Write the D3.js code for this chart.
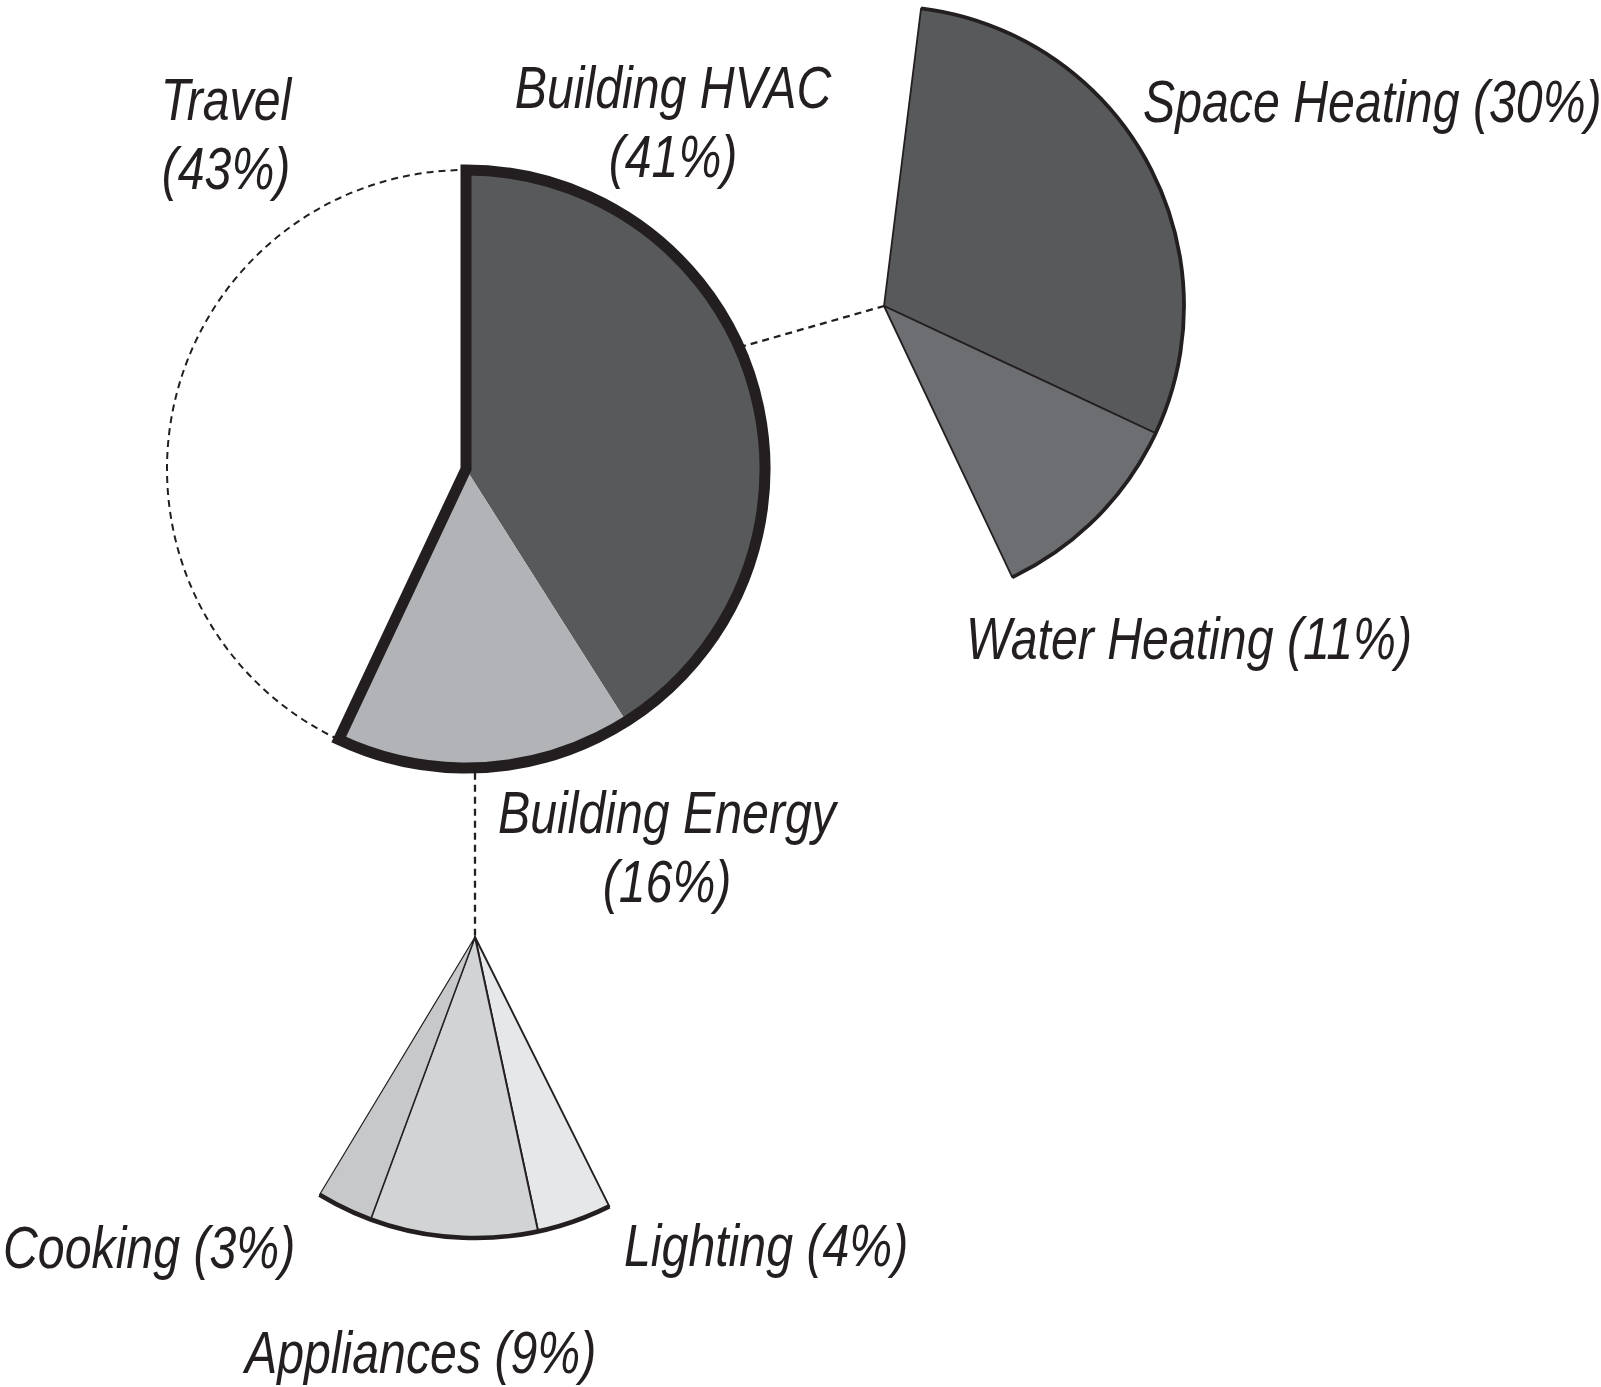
<!DOCTYPE html>
<html>
<head>
<meta charset="utf-8">
<script src="https://cdn.jsdelivr.net/npm/d3@7"></script>
<style>
  html, body { margin: 0; padding: 0; background: #ffffff; }
  svg { display: block; }
  .lbl { font-family: "Liberation Sans", Arial, sans-serif; font-style: italic; font-size: 58.5px; fill: #231f20; }
</style>
</head>
<body>
<script>
// ---------------- DATA ----------------
const mainCats   = ["Building HVAC", "Building Energy", "Travel"];
const mainValues = [41, 16, 43];

const hvacCats   = ["Space Heating", "Water Heating"];
const hvacValues = [30, 11];

const energyCats   = ["Lighting", "Appliances", "Cooking"];
const energyValues = [4, 9, 3];

const labelLines = {
  "Travel": ["Travel", "(43%)"],
  "Building HVAC": ["Building HVAC", "(41%)"],
  "Building Energy": ["Building Energy", "(16%)"],
  "Space Heating": ["Space Heating (30%)"],
  "Water Heating": ["Water Heating (11%)"],
  "Cooking": ["Cooking (3%)"],
  "Lighting": ["Lighting (4%)"],
  "Appliances": ["Appliances (9%)"]
};

// ---------------- LAYOUT ----------------
const W = 1601, H = 1387;
const ink = "#231f20";
const deg = Math.PI / 180;
const pctToAngle = d3.scaleLinear().domain([0, 100]).range([0, 2 * Math.PI]);

const mainC = { x: 466, y: 469, r: 299 };
const hvacC = { x: 884, y: 306, r: 300, start: 7.1 * deg };
const enC   = { x: 475, y: 937, r: 301, start: 153.5 * deg };

const colors = {
  "Building HVAC": "#58595b",
  "Building Energy": "#b1b3b6",
  "Travel": "#ffffff",
  "Space Heating": "#58595b",
  "Water Heating": "#6d6e71",
  "Lighting": "#e6e7e8",
  "Appliances": "#d1d3d4",
  "Cooking": "#c7c8ca"
};

const svg = d3.select("body").append("svg").attr("width", W).attr("height", H);

const pt = (c, a, r) => [c.x + (r ?? c.r) * Math.sin(a), c.y - (r ?? c.r) * Math.cos(a)];

// ---------------- MAIN PIE ----------------
const mainPie = d3.pie().sort(null).value(d => d.v).startAngle(0).endAngle(2 * Math.PI);
const mainArcs = mainPie(mainCats.map((c, i) => ({ c, v: mainValues[i] })));
const arcMain = d3.arc().innerRadius(0).outerRadius(mainC.r);
const gMain = svg.append("g").attr("transform", `translate(${mainC.x},${mainC.y})`);

const travel = mainArcs[2];
const tp = d3.path();
tp.arc(0, 0, mainC.r, travel.startAngle - Math.PI / 2, travel.endAngle - Math.PI / 2);
gMain.append("path").attr("d", tp.toString())
  .attr("fill", "none").attr("stroke", ink).attr("stroke-width", 2)
  .attr("stroke-dasharray", "7 5");

gMain.selectAll("path.slice").data(mainArcs.slice(0, 2)).join("path")
  .attr("class", "slice").attr("d", arcMain)
  .attr("fill", d => colors[d.data.c]).attr("stroke", "none");

const bStart = mainArcs[0].startAngle, bEnd = mainArcs[1].endAngle;
gMain.append("path")
  .attr("d", arcMain({ startAngle: bStart, endAngle: bEnd }))
  .attr("fill", "none").attr("stroke", ink).attr("stroke-width", 11)
  .attr("stroke-linejoin", "miter").attr("stroke-miterlimit", 10);

// ---------------- HVAC BREAKDOWN ----------------
const hvacSpan = pctToAngle(d3.sum(hvacValues));
const hvacPie = d3.pie().sort(null).value(d => d.v).startAngle(hvacC.start).endAngle(hvacC.start + hvacSpan);
const hvacArcs = hvacPie(hvacCats.map((c, i) => ({ c, v: hvacValues[i] })));
const arcHvac = d3.arc().innerRadius(0).outerRadius(hvacC.r);
const gH = svg.append("g").attr("transform", `translate(${hvacC.x},${hvacC.y})`);
gH.selectAll("path.slice").data(hvacArcs).join("path")
  .attr("class", "slice").attr("d", arcHvac)
  .attr("fill", d => colors[d.data.c]).attr("stroke", ink).attr("stroke-width", 1.8)
  .attr("stroke-linejoin", "round");
const hp = d3.path();
hp.arc(0, 0, hvacC.r, hvacC.start - Math.PI / 2, hvacC.start + hvacSpan - Math.PI / 2);
gH.append("path").attr("d", hp.toString()).attr("fill", "none").attr("stroke", ink).attr("stroke-width", 3.8);

// ---------------- ENERGY BREAKDOWN ----------------
const enSpan = pctToAngle(d3.sum(energyValues));
const enPie = d3.pie().sort(null).value(d => d.v).startAngle(enC.start).endAngle(enC.start + enSpan);
const enArcs = enPie(energyCats.map((c, i) => ({ c, v: energyValues[i] })));
const arcEn = d3.arc().innerRadius(0).outerRadius(enC.r);
const gE = svg.append("g").attr("transform", `translate(${enC.x},${enC.y})`);
gE.selectAll("path.slice").data(enArcs).join("path")
  .attr("class", "slice").attr("d", arcEn)
  .attr("fill", d => colors[d.data.c]).attr("stroke", ink)
  .attr("stroke-width", d => d.data.c === "Cooking" ? 1.2 : 1.9)
  .attr("stroke-linejoin", "round");
const ep = d3.path();
ep.arc(0, 0, enC.r, enC.start - Math.PI / 2, enC.start + enSpan - Math.PI / 2);
gE.append("path").attr("d", ep.toString()).attr("fill", "none").attr("stroke", ink).attr("stroke-width", 4.5);

// ---------------- CONNECTORS ----------------
const connAngle = 66 * deg;
const p1 = pt(mainC, connAngle);
svg.append("line").attr("x1", p1[0]).attr("y1", p1[1]).attr("x2", hvacC.x).attr("y2", hvacC.y)
  .attr("stroke", ink).attr("stroke-width", 2.3).attr("stroke-dasharray", "7 5");
const dx = enC.x - mainC.x;
const yBottom = mainC.y + Math.sqrt(mainC.r * mainC.r - dx * dx);
svg.append("line").attr("x1", enC.x).attr("y1", yBottom + 5).attr("x2", enC.x).attr("y2", enC.y)
  .attr("stroke", ink).attr("stroke-width", 2.3).attr("stroke-dasharray", "7 5");

// ---------------- LABELS ----------------
const sx = 0.825, lineH = 69;
const labelPos = [
  { k: "Travel",          x: 226, y: 120, anchor: "middle" },
  { k: "Building HVAC",   x: 673, y: 108, anchor: "middle" },
  { k: "Space Heating",   x: 1143, y: 122, anchor: "start" },
  { k: "Water Heating",   x: 966, y: 659, anchor: "start" },
  { k: "Building Energy", x: 667, y: 833, anchor: "middle" },
  { k: "Cooking",         x: 3,   y: 1268, anchor: "start" },
  { k: "Lighting",        x: 624, y: 1266, anchor: "start" },
  { k: "Appliances",      x: 245, y: 1373, anchor: "start" }
];
labelPos.forEach(l => {
  const g = svg.append("g").attr("transform", `translate(${l.x},${l.y}) scale(${sx},1)`);
  labelLines[l.k].forEach((line, i) => {
    g.append("text").attr("class", "lbl").attr("x", 0).attr("y", i * lineH)
      .attr("text-anchor", l.anchor).text(line);
  });
});
</script>
</body>
</html>
